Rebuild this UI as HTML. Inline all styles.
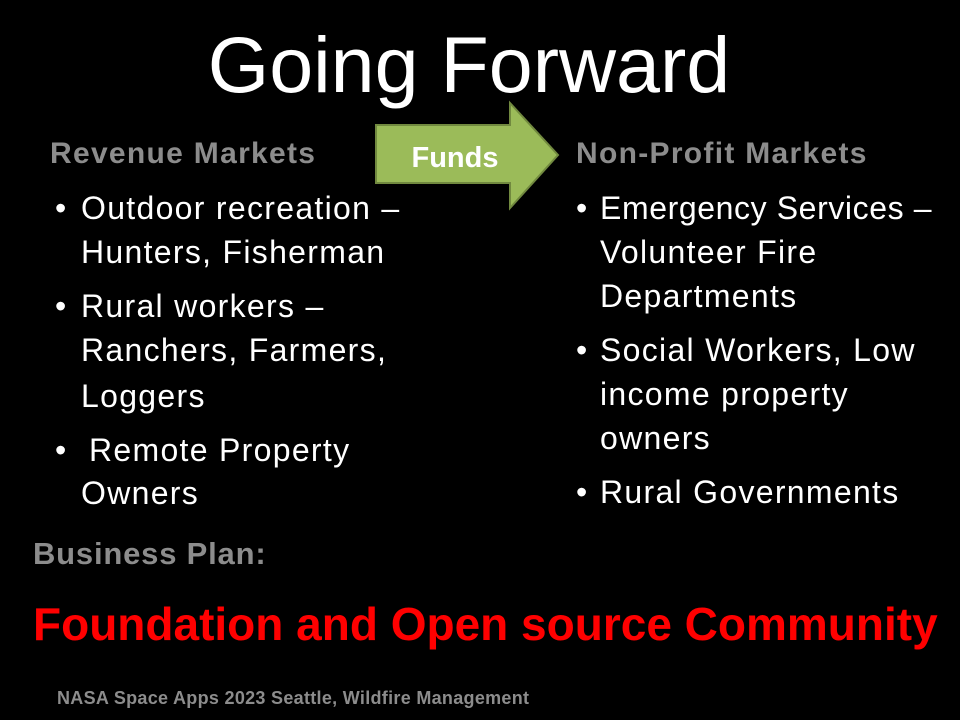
<!DOCTYPE html>
<html><head><meta charset="utf-8"><style>
body{margin:0;width:960px;height:720px;background:#000;overflow:hidden;position:relative;font-family:"Liberation Sans",sans-serif;}
.t{position:absolute;white-space:nowrap;line-height:1;}
.h{color:#8c8c8c;font-weight:bold;font-size:30px;letter-spacing:1.3px;}
.b{color:#fff;font-size:32px;letter-spacing:1.3px;}
</style></head><body>
<div class="t" style="left:169px;top:25px;font-size:79px;color:#fff;width:600px;text-align:center;">Going Forward</div>

<div class="t h" style="left:50px;top:139px;">Revenue Markets</div>
<div class="t h" style="left:576px;top:139px;">Non-Profit Markets</div>

<svg style="position:absolute;left:0;top:0" width="960" height="720">
<polygon points="376,125 510,125 510,103 558,155 510,208 510,183 376,183" fill="#9bbb59" stroke="#71893f" stroke-width="2"/>
<text x="455" y="167" text-anchor="middle" fill="#fff" font-family="Liberation Sans, sans-serif" font-weight="bold" font-size="29">Funds</text>
</svg>

<div>
<div class="t b" style="left:55px;top:192px;">•</div>
<div class="t b" style="left:81px;top:192px;">Outdoor recreation –</div>
<div class="t b" style="left:81px;top:236px;">Hunters, Fisherman</div>
<div class="t b" style="left:55px;top:290px;">•</div>
<div class="t b" style="left:81px;top:290px;">Rural workers –</div>
<div class="t b" style="left:81px;top:334px;">Ranchers, Farmers,</div>
<div class="t b" style="left:81px;top:380px;">Loggers</div>
<div class="t b" style="left:55px;top:434px;">•</div>
<div class="t b" style="left:89px;top:434px;">Remote Property</div>
<div class="t b" style="left:81px;top:477px;">Owners</div>
</div>

<div>
<div class="t b" style="left:576px;top:192px;">•</div>
<div class="t b" style="left:600px;top:192px;letter-spacing:0.6px;">Emergency Services –</div>
<div class="t b" style="left:600px;top:236px;">Volunteer Fire</div>
<div class="t b" style="left:600px;top:280px;">Departments</div>
<div class="t b" style="left:576px;top:334px;">•</div>
<div class="t b" style="left:600px;top:334px;">Social Workers, Low</div>
<div class="t b" style="left:600px;top:378px;">income property</div>
<div class="t b" style="left:600px;top:422px;">owners</div>
<div class="t b" style="left:576px;top:476px;">•</div>
<div class="t b" style="left:600px;top:476px;">Rural Governments</div>
</div>

<div class="t" style="left:33px;top:538px;font-size:31px;letter-spacing:0.8px;font-weight:bold;color:#8c8c8c;">Business Plan:</div>
<div class="t" style="left:33px;top:601px;font-size:46px;font-weight:bold;color:#ff0000;">Foundation and Open source Community</div>
<div class="t" style="left:57px;top:689px;font-size:18px;letter-spacing:0.3px;font-weight:bold;color:#8c8c8c;">NASA Space Apps 2023 Seattle, Wildfire Management</div>
</body></html>
